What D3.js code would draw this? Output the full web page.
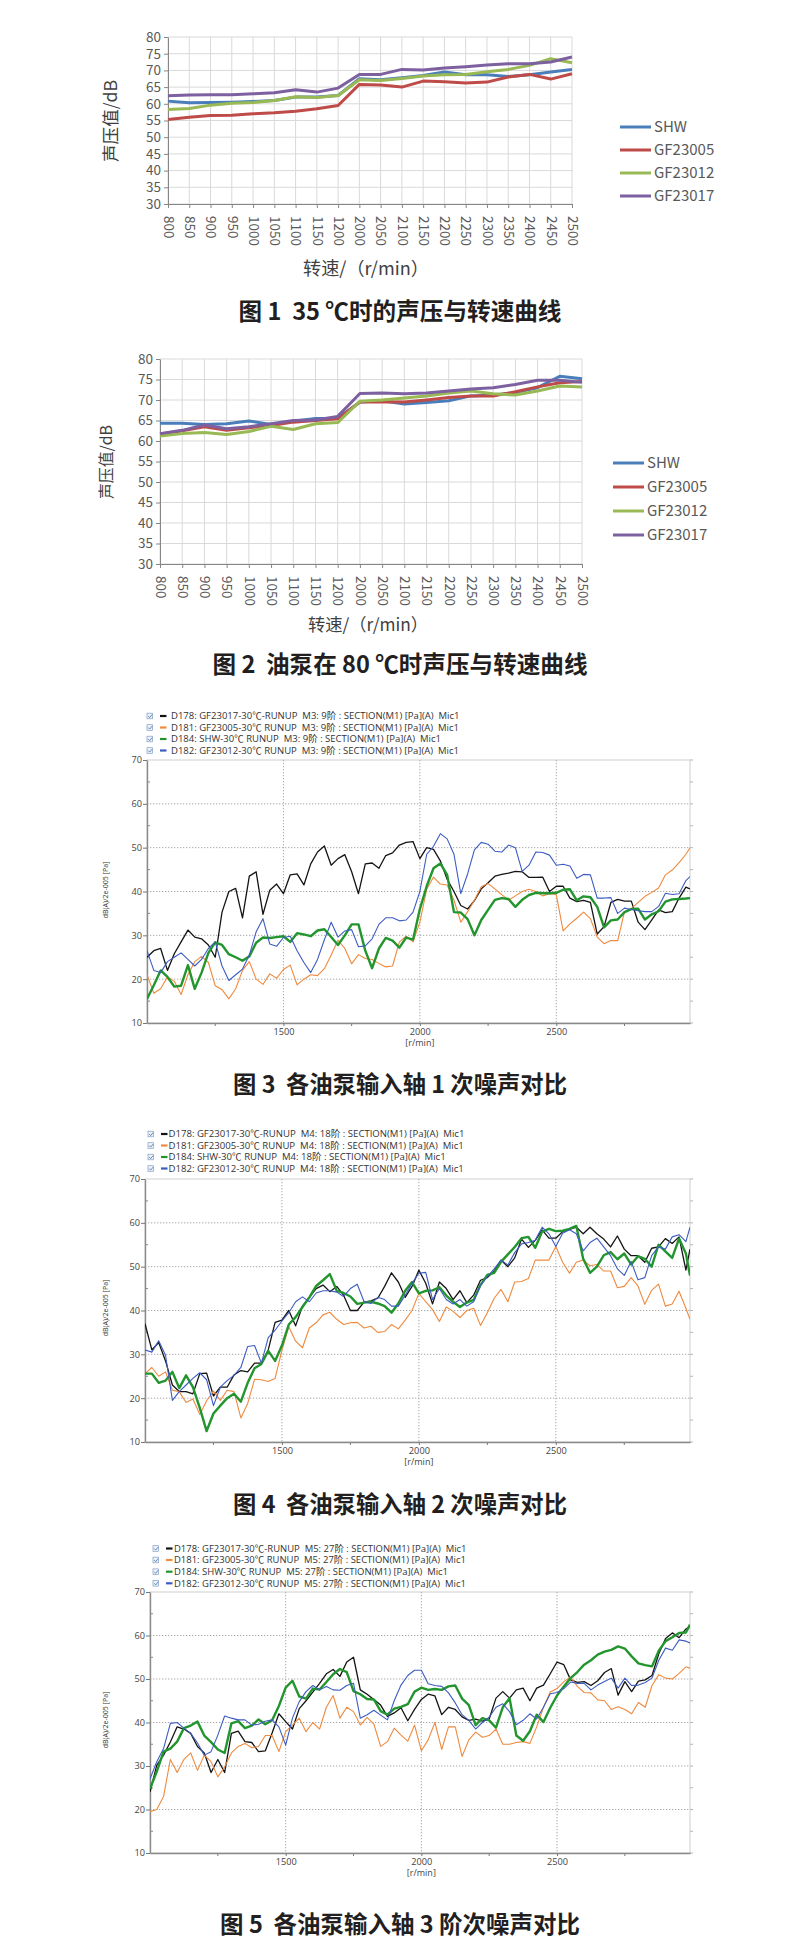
<!DOCTYPE html>
<html>
<head>
<meta charset="utf-8">
<title>油泵声压与噪声对比</title>
<script src="https://cdn.jsdelivr.net/npm/d3@7"></script>
<style>
  body { margin: 0; background: #fff; }
  svg { display: block; }
</style>
</head>
<body>
<svg id="chart" width="800" height="1956"></svg>
<script>
// ---- figures 1 & 2 (Excel style) ----
var speeds = ["800","850","900","950","1000","1050","1100","1150","1200",
              "2000","2050","2100","2150","2200","2250","2300","2350","2400","2450","2500"];
var dbTicks = [30,35,40,45,50,55,60,65,70,75,80];
var pumpNames = ["SHW","GF23005","GF23012","GF23017"];
var pumpColors = ["#4a7ebb","#be4b48","#98b954","#7d60a0"];

var fig1_SHW     = [60.8,60.3,60.4,60.5,60.7,61.0,62.0,62.0,62.5,67.5,67.2,67.8,68.5,69.5,68.7,68.7,68.2,68.7,69.5,70.3];
var fig1_GF23005 = [55.3,56.0,56.5,56.6,57.0,57.3,57.8,58.5,59.5,65.8,65.6,65.0,66.8,66.6,66.2,66.5,68.0,68.8,67.4,69.0];
var fig1_GF23012 = [58.3,58.6,59.6,60.2,60.4,61.0,62.1,61.9,62.5,67.2,67.0,67.6,68.3,68.7,68.8,69.6,70.3,71.5,73.5,72.3];
var fig1_GF23017 = [62.4,62.6,62.7,62.7,63.0,63.3,64.2,63.5,64.7,68.8,68.8,70.3,70.1,70.7,71.1,71.6,72.0,72.0,72.5,74.0];

var fig2_SHW     = [64.3,64.3,64.0,64.2,64.9,64.0,64.8,65.5,65.5,69.5,69.8,69.0,69.4,69.8,71.0,71.2,71.8,73.0,75.8,75.2];
var fig2_GF23005 = [61.7,62.5,63.5,62.6,63.2,63.8,64.6,65.0,65.4,69.5,69.6,69.5,70.0,70.6,71.0,71.0,72.0,73.2,74.2,74.5];
var fig2_GF23012 = [61.2,61.8,62.1,61.6,62.3,63.6,62.8,64.2,64.5,69.7,70.0,70.5,71.0,71.7,72.2,71.5,71.2,72.2,73.4,73.2];
var fig2_GF23017 = [61.8,62.6,63.9,63.0,63.5,64.2,65.0,65.1,66.0,71.6,71.7,71.5,71.7,72.2,72.7,73.0,73.8,74.8,74.8,74.3];

// ---- figures 3-5 (run-up order tracks) ----
var rpm = d3.range(1000, 2976, 25).concat([2990]);
var lmsTicks = [10,20,30,40,50,60,70];
var rpmTicks = [1500,2000,2500];
var runNames = ["D178: GF23017-30℃-RUNUP","D181: GF23005-30℃ RUNUP","D184: SHW-30℃ RUNUP","D182: GF23012-30℃ RUNUP"];
var runColors = ["#141414","#ef8a3e","#23952f","#3d5cc2"];

var fig3_D178 = [25,26.5,27,22,25.8,28.5,31.2,29.6,29.2,27.8,25,35.3,40,40.7,34,43.5,44.5,34.8,40.3,41.7,
  39.5,43.8,44,41.5,46.3,49,50.4,46,47.5,48.4,44.5,39.5,46.3,46.5,45.3,48.2,48.8,50.6,51.2,51.4,
  47.5,50,49.6,47,42.8,40,36.8,36,37.9,40.6,42,43.5,43.9,44.2,44.6,44.5,43.2,43.2,43.3,40,
  41.2,41.2,38.5,37.7,38,37.5,30.3,32,37.5,38.2,37.8,37.8,33,31.3,33.5,35.8,35.2,35.4,38.5,41,40.6];
var fig3_D181 = [21,16.8,17.8,20.5,19.5,16.5,21,24,25.2,23.8,18.5,17.6,15.5,17.8,22,24,20,18.8,21.2,20.2,
  22.2,23.2,18.7,20,21,20.8,22.4,25.5,28.9,27,23.5,25.6,24.7,24.5,23.6,22.8,23,28.5,29.8,28.5,
  33,40.5,43.3,41.7,41.5,38,33,35.4,38,41.1,41.8,40.6,39.3,38,39,40,40.5,40,39,39.5,
  39.3,31,32.6,33.9,35.3,33.8,29.6,28.1,28.8,28.8,35.4,36.1,37.5,38.9,39.8,40.8,43.8,44.9,46.6,48.5,50];
var fig3_D184 = [15.5,18.6,22,20.5,18.3,18.5,23.2,17.8,21.5,26,28.4,27.8,25.7,25,24.2,25.2,28.3,29.5,29.4,29.6,
  29.8,28.5,30.5,30.2,29.8,31.1,31.4,29.6,27.8,30,32.5,32.5,26.5,22.5,27,29.4,28.8,27.2,29.5,29,
  36,41.2,45.3,46.4,43.8,35.3,35.2,33.7,30,33.5,35.8,38.1,38.5,38.3,36.5,38.1,39.2,39.7,39.6,39.6,
  39.7,40.4,40.5,38,38.9,38.7,36.5,31.8,33.4,33.6,35.3,36,36.1,33.6,34.8,35.5,37.7,38.2,38.3,38.4,38.5];
var fig3_D182 = [26.5,22,21.5,24,25,26,24.5,23,24.5,27,28.5,23,19.7,21,22.3,25.5,30.8,33.8,28,27.5,
  29.5,29.8,26.5,23.8,21.5,24.5,29,33,29.6,31,31.3,27.4,27.6,29.2,32.5,34,34,33.3,33.5,35.3,
  40,48.5,50.3,53.2,52,48.5,39.5,44,49.5,51.2,50.8,49.2,49,50.6,50,44.6,46,49,48.9,48.3,
  46,46.2,45.8,43,43.9,43.8,38.5,38.5,38.6,35,36.2,35.9,35.6,35.4,35.4,36.6,39.6,39.3,39.5,42.5,43.4];

var fig4_D178 = [37,31,32.7,28.5,23,21.5,21.5,21,25.6,25.7,20.5,22.5,22.5,25.3,26.3,26,28,28,31,37.3,
  37.8,40,36.5,41,43,45,45.8,44.3,45.5,43.5,40,40,41.9,42.2,42.8,45.5,48.6,46.5,43,45.5,
  49.2,46.2,41.5,46.5,45,42.5,44.5,41.8,43.5,46.9,47.5,49,51.5,50,52,56.3,54.4,56,58.4,56.5,
  56.5,58,58.5,59,57.5,59,57.5,56.3,54.5,57,54,52.5,52.5,51,54.2,54.5,56.4,55.3,56.8,49.2,54];
var fig4_D181 = [25.6,27,25,26,21.8,21.5,19,19.8,16.3,19.4,21.6,19.5,21.8,21.5,15.5,18.8,24.3,24.2,23.8,24.5,
  30.9,36.3,33,31.5,36,37.2,39,39.6,38,36.8,37.2,37.3,36,36.4,35,35.2,36.8,35.8,37.8,40,
  43.9,42,40.2,37.5,40.8,39.8,38.4,40,40.5,36.6,39.5,42.8,44.8,42,46.5,46.6,47.3,51.5,51.5,51.5,
  54.6,51,48.5,51,51.5,50.2,50.5,49,49,45.2,45.5,47.5,45.6,41.4,44.6,46,41,41.5,44.4,40.5,38];
var fig4_D184 = [25.6,25.6,23.5,24,26,22.3,25.2,22.5,17.8,12.5,16.5,18.3,20,21,19.2,23.5,26.8,27.8,30.8,28.5,
  32,36.8,38.5,40.8,43,45.6,46.9,48.3,44.5,44,43.2,41.5,41.8,42,41.6,41,39.5,41.6,44.5,46.5,
  43.9,44.5,44.6,45.3,43.4,42,40.8,41.8,42.4,45.8,48.1,48.6,51.1,52.8,54.5,56.5,56.8,54.3,58,58.6,
  58.1,58.2,58.6,59.3,51.8,48.6,50,52.6,53.3,51.7,53,50.5,52.4,51.8,50,55,53.5,52,56.4,53,48];
var fig4_D182 = [31,30.5,33.1,29.8,19.5,21.5,23,24.5,25.8,24.2,18.3,22.5,24,25.2,27,31.8,32,28,33.8,35.5,
  37.6,39.5,42,43.1,42,44,44.5,44.5,44.2,43.2,45,46,42,41.6,43,42.5,41,41,43.5,46.2,
  48.5,48.7,42.5,45,42.5,41.5,42.5,41,42,45.8,47.7,49.5,51.5,50.4,53.2,55.2,55.5,56,59,57.5,
  54.6,57.6,58.4,57.5,53.6,55.5,56.5,54.5,52.5,49.5,48,51.2,47,47.5,52.5,54.5,54,56.8,57.3,55.7,59];

var fig5_D178 = [24,30.2,32.5,35.5,39,38.5,37.5,34.5,33,28.5,31.5,28.5,37.5,38,35.6,35.4,33.3,33.5,37.6,42,
  40.2,38.5,43.2,45,47,49,51.2,52.2,50.6,53.9,55,47.5,46.5,45.3,44,41.4,42.2,43.4,40.4,43,
  45.3,46.5,46.1,41.8,43.5,43,41.3,40.5,40.8,40.3,40.8,45.6,47.1,45.6,47.5,47.9,45,47.9,48.6,51.2,
  53.9,53.3,49.8,49.2,49.4,48.5,49.6,51.5,52.4,46.3,49.4,47.1,49.5,49.8,50.8,55.8,59.3,60.6,59.5,61.5,62.1];
var fig5_D181 = [19.5,20,23,31.5,28.5,31.5,33,29,32.5,31,27.5,29.8,33,34.5,35.2,34.2,34.5,37,37,33.3,
  37.9,39.4,41,37.9,40,38.5,43.5,46.2,41,43.5,42.5,39.4,41.2,39.6,34.5,35.6,38.7,37.1,35.7,39.4,
  33.5,36,40,33.8,39,39,32.2,36,37.8,36.6,37,38.5,35,35,35.4,35.6,35.2,39,43.5,47,
  47.8,49.4,50.4,48.3,46.9,46.8,45.2,45,43,43.6,43,42,44.6,43.5,48.5,51,50.2,50,51.3,52.8,52.5];
var fig5_D184 = [24.8,28.7,33.3,34,35.6,38.7,39.3,40.2,37,35.5,33.8,33,39.8,40.3,38.7,39.3,40.7,39.6,40.5,43.8,
  48,49.6,46,45.5,47.8,47.6,49.3,51.1,52.3,51.6,47.2,46.5,45.4,45.3,42.6,41.8,43.2,43.6,44.2,47.1,
  48,47.5,47.7,47.5,48.3,48.5,45.5,44,39.4,41,40.5,38.8,43.5,45.6,37,35.8,38,41.8,40.1,43.4,
  46.2,48.3,50.2,51.6,53.3,54.3,55.6,56.3,56.7,57.5,57,55.2,53.6,53.2,52.9,56.5,58.7,59.6,60.6,60.7,62.5];
var fig5_D182 = [27,31,34,39.8,40,38.7,37.5,35.3,32.5,33.3,37.1,41.5,41,40.6,40.6,39.4,39.6,40.3,40.6,39,
  34.8,41,44.8,47.1,48.5,47.5,48.3,47.5,47.4,48.5,49,41,41.8,42.8,41.7,40.6,45,48.6,50.8,52,
  52,48.9,48.5,48.3,46.8,44.5,41.8,40.5,38.5,40,41.2,43.5,44.3,42.5,39.5,40.5,42,40.8,43.5,46.6,
  46.9,47.8,49.3,49,49,47.5,48.6,49.4,50.2,47.9,50.2,48.5,48.6,49.2,50.2,54.3,57.1,56.6,59,58.7,58.3];

var cjk = "'Noto Sans CJK SC', 'Noto Sans', sans-serif";
var latin = "'Open Sans', 'Noto Sans CJK SC', sans-serif";
var svg = d3.select("#chart");

// scale font-size so the text is w pixels long
function fitWidth(t, w) {
  var len = t.node().getComputedTextLength();
  var fs = parseFloat(t.attr("font-size"));
  if (len > 0) t.attr("font-size", (fs * w / len).toFixed(2));
  return t;
}

function caption(text, cy, w) {
  var t = svg.append("text").attr("x", 400).attr("y", cy)
    .attr("text-anchor", "middle").attr("dominant-baseline", "central")
    .attr("font-family", cjk).attr("font-weight", "bold").attr("font-size", 22)
    .attr("fill", "#231f20").style("white-space", "pre").text(text);
  fitWidth(t, w);
}

function drawExcel(o) {
  var g = svg.append("g");
  var x = d3.scalePoint().domain(speeds).range([o.left, o.right]);
  var y = d3.scaleLinear().domain([30, 80]).range([o.bottom, o.top]);

  g.append("g").selectAll("line").data(dbTicks).join("line")
    .attr("x1", o.left).attr("x2", o.right)
    .attr("y1", d => y(d)).attr("y2", d => y(d))
    .attr("stroke", "#d9d9d9");
  g.append("g").selectAll("line").data(speeds).join("line")
    .attr("x1", d => x(d)).attr("x2", d => x(d))
    .attr("y1", o.top).attr("y2", o.bottom)
    .attr("stroke", "#d9d9d9");

  var ya = g.append("g").attr("transform", "translate(" + o.left + ",0)")
    .call(d3.axisLeft(y).tickValues(dbTicks).tickSize(4).tickSizeOuter(0).tickPadding(3));
  var xa = g.append("g").attr("transform", "translate(0," + o.bottom + ")")
    .call(d3.axisBottom(x).tickSize(4).tickSizeOuter(0));
  [ya, xa].forEach(function (a) {
    a.select(".domain").attr("stroke", "#868686");
    a.selectAll(".tick line").attr("stroke", "#868686");
    a.selectAll("text").attr("fill", "#595959").attr("font-size", 13.5).attr("font-family", cjk);
  });
  xa.selectAll("text").attr("transform", "rotate(90)").attr("text-anchor", "start")
    .attr("x", 12).attr("y", 0).attr("dy", "0.35em");

  var line = d3.line().x((d, i) => x(speeds[i])).y(d => y(d));
  o.series.forEach(function (s, k) {
    g.append("path").datum(s).attr("d", line)
      .attr("fill", "none").attr("stroke", pumpColors[k])
      .attr("stroke-width", 3).attr("stroke-linejoin", "round");
  });

  // legend
  pumpNames.forEach(function (n, k) {
    var ly = o.legendRows[k];
    g.append("line").attr("x1", o.legendX).attr("x2", o.legendX + 31)
      .attr("y1", ly).attr("y2", ly).attr("stroke", pumpColors[k]).attr("stroke-width", 3);
    g.append("text").attr("x", o.legendX + 34).attr("y", ly).attr("dy", "0.35em")
      .attr("font-family", cjk).attr("font-size", 15).attr("fill", "#595959").text(n);
  });

  var yt = g.append("text").attr("transform", "translate(" + o.yTitle[0] + "," + o.yTitle[1] + ") rotate(-90)")
    .attr("text-anchor", "middle").attr("dominant-baseline", "central")
    .attr("font-family", cjk).attr("font-size", 19).attr("fill", "#404040").text("声压值/dB");
  fitWidth(yt, o.yTitle[2]);
  var xt = g.append("text").attr("x", o.xTitle[0]).attr("y", o.xTitle[1])
    .attr("text-anchor", "middle").attr("dominant-baseline", "central")
    .attr("font-family", cjk).attr("font-size", 17).attr("fill", "#404040").text("转速/（r/min）");
  fitWidth(xt, o.xTitle[2]);
}

function drawRun(o) {
  var g = svg.append("g");
  var x = d3.scaleLinear().domain([1000, 2990]).range([o.left, o.right]);
  var y = d3.scaleLinear().domain([10, 70]).range([o.bottom, o.top]);

  g.append("rect").attr("x", o.left).attr("y", o.top)
    .attr("width", o.right - o.left).attr("height", o.bottom - o.top)
    .attr("fill", "none").attr("stroke", "#cfcfcf");
  g.append("g").selectAll("line").data([20, 30, 40, 50, 60]).join("line")
    .attr("x1", o.left).attr("x2", o.right).attr("y1", d => y(d)).attr("y2", d => y(d))
    .attr("stroke", "#a8a8a8").attr("stroke-dasharray", "1.3,1.7");
  g.append("g").selectAll("line").data(rpmTicks).join("line")
    .attr("x1", d => x(d)).attr("x2", d => x(d)).attr("y1", o.top).attr("y2", o.bottom)
    .attr("stroke", "#a8a8a8").attr("stroke-dasharray", "1.3,1.7");

  // right-hand minor ticks
  g.append("g").selectAll("line").data(d3.range(10, 71, 5)).join("line")
    .attr("x1", o.right).attr("x2", o.right + 3).attr("y1", d => y(d)).attr("y2", d => y(d))
    .attr("stroke", "#b5b5b5");
  // left minor ticks
  g.append("g").selectAll("line").data(d3.range(15, 70, 10)).join("line")
    .attr("x1", o.left).attr("x2", o.left + 3).attr("y1", d => y(d)).attr("y2", d => y(d))
    .attr("stroke", "#888");
  // bottom minor ticks
  g.append("g").selectAll("line").data([1250, 1750, 2250, 2750]).join("line")
    .attr("x1", d => x(d)).attr("x2", d => x(d)).attr("y1", o.bottom).attr("y2", o.bottom + 3)
    .attr("stroke", "#777");

  var ya = g.append("g").attr("transform", "translate(" + o.left + ",0)")
    .call(d3.axisLeft(y).tickValues(lmsTicks).tickSize(4).tickSizeOuter(0).tickPadding(1));
  var xa = g.append("g").attr("transform", "translate(0," + o.bottom + ")")
    .call(d3.axisBottom(x).tickValues(rpmTicks).tickFormat(d3.format("d"))
      .tickSize(3).tickSizeOuter(0).tickPadding(2));
  [ya, xa].forEach(function (a) {
    a.select(".domain").attr("stroke", "#8a8a8a").attr("stroke-width", 1.4);
    a.selectAll(".tick line").attr("stroke", "#777");
    a.selectAll("text").attr("fill", "#444").attr("font-size", 9.2).attr("font-family", latin);
  });

  g.append("text").attr("x", x(2000)).attr("y", o.bottom + 19)
    .attr("text-anchor", "middle").attr("dominant-baseline", "central")
    .attr("font-family", latin).attr("font-size", 9).attr("fill", "#444").text("[r/min]");
  g.append("text").attr("transform", "translate(105," + o.yLabelY + ") rotate(-90)")
    .attr("text-anchor", "middle").attr("dominant-baseline", "central")
    .attr("font-family", latin).attr("font-size", 7).attr("fill", "#333").text("dB(A)/2e-005 [Pa]");

  var clipId = "clip" + o.id;
  svg.append("clipPath").attr("id", clipId).append("rect")
    .attr("x", o.left).attr("y", o.top).attr("width", o.right - o.left).attr("height", o.bottom - o.top);
  var line = d3.line().x((d, i) => x(rpm[i])).y(d => y(d));
  var widths = [1.3, 1.1, 2.4, 1.1];
  o.series.forEach(function (s, k) {
    g.append("path").datum(s).attr("d", line).attr("clip-path", "url(#" + clipId + ")")
      .attr("fill", "none").attr("stroke", runColors[k]).attr("stroke-width", widths[k])
      .attr("stroke-linejoin", "round");
  });

  // legend
  var texts = [];
  runNames.forEach(function (n, k) {
    var ly = o.legendRows[k];
    g.append("rect").attr("x", o.legendX).attr("y", ly - 2.8).attr("width", 5.6).attr("height", 5.6)
      .attr("fill", "#eef3fa").attr("stroke", "#7f9fc6").attr("stroke-width", 0.7);
    g.append("path").attr("d", "M" + (o.legendX + 1.2) + "," + ly + " l1.5,1.6 l2.4,-3")
      .attr("fill", "none").attr("stroke", "#4d6ea3").attr("stroke-width", 0.8);
    g.append("line").attr("x1", o.legendX + 13).attr("x2", o.legendX + 19.5)
      .attr("y1", ly).attr("y2", ly).attr("stroke", runColors[k]).attr("stroke-width", 2.2);
    texts.push(g.append("text").attr("x", o.textX).attr("y", ly).attr("dy", "0.35em")
      .attr("font-family", latin).attr("font-size", 9.5).attr("fill", "#333")
      .style("white-space", "pre")
      .text(n + "  " + o.order + " : SECTION(M1) [Pa](A)  Mic1"));
  });
  fitWidth(texts[o.fitRow], o.fitWidth);
  var fs = texts[o.fitRow].attr("font-size");
  texts.forEach(t => t.attr("font-size", fs));
}

drawExcel({ left: 168, right: 572, top: 37, bottom: 204,
  series: [fig1_SHW, fig1_GF23005, fig1_GF23012, fig1_GF23017],
  legendX: 620, legendRows: [127, 150, 173, 196],
  yTitle: [109, 121, 82], xTitle: [366, 267, 126] });
caption("图 1  35 ℃时的声压与转速曲线", 310, 323);

drawExcel({ left: 160, right: 582, top: 359, bottom: 564,
  series: [fig2_SHW, fig2_GF23005, fig2_GF23012, fig2_GF23017],
  legendX: 613, legendRows: [463, 487, 511, 535],
  yTitle: [105, 462, 74], xTitle: [368, 623, 120] });
caption("图 2  油泵在 80 ℃时声压与转速曲线", 663, 375);

drawRun({ id: 3, left: 147, right: 690, top: 760, bottom: 1023,
  series: [fig3_D178, fig3_D181, fig3_D184, fig3_D182], order: "M3: 9阶",
  legendX: 147, textX: 171, legendRows: [716, 727.5, 739, 750.5],
  fitRow: 0, fitWidth: 289, yLabelY: 890 });
caption("图 3  各油泵输入轴 1 次噪声对比", 1083, 334);

drawRun({ id: 4, left: 145, right: 690, top: 1179, bottom: 1442,
  series: [fig4_D178, fig4_D181, fig4_D184, fig4_D182], order: "M4: 18阶",
  legendX: 148, textX: 168.5, legendRows: [1134, 1145.5, 1157, 1168.5],
  fitRow: 0, fitWidth: 296, yLabelY: 1308 });
caption("图 4  各油泵输入轴 2 次噪声对比", 1503, 334);

drawRun({ id: 5, left: 150, right: 690, top: 1592, bottom: 1853,
  series: [fig5_D178, fig5_D181, fig5_D184, fig5_D182], order: "M5: 27阶",
  legendX: 153, textX: 174, legendRows: [1548.5, 1560, 1571.7, 1583.3],
  fitRow: 1, fitWidth: 292, yLabelY: 1720 });
caption("图 5  各油泵输入轴 3 阶次噪声对比", 1923, 360);
</script>
</body>
</html>
